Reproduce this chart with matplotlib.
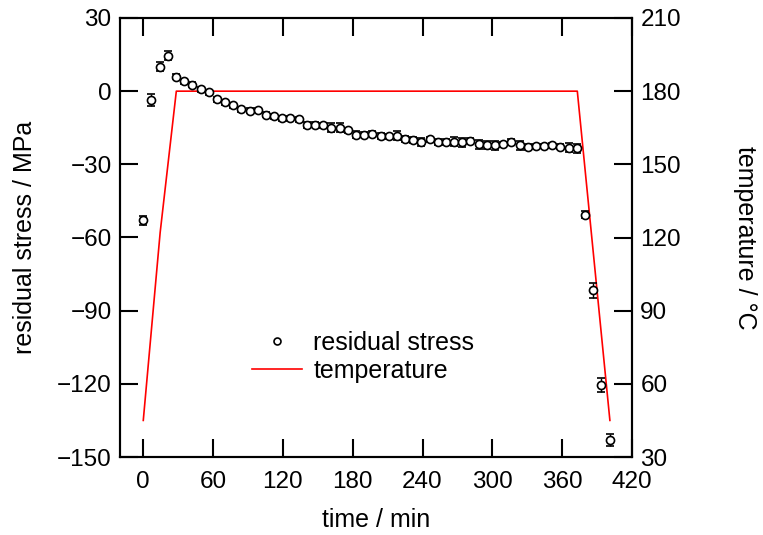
import matplotlib
matplotlib.use("Agg")
import matplotlib.pyplot as plt
from matplotlib.lines import Line2D

plt.rcParams['font.family'] = ['Liberation Sans', 'DejaVu Sans']

# residual stress measurements
time_min = [0.0, 7.0, 14.1, 21.1, 28.1, 35.2, 42.2, 49.2, 56.2, 63.3,
            70.3, 77.3, 84.4, 91.4, 98.4, 105.5, 112.5, 119.5, 126.5, 133.6,
            140.6, 147.6, 154.7, 161.7, 168.7, 175.8, 182.8, 189.8, 196.8, 203.9,
            210.9, 217.9, 225.0, 232.0, 239.0, 246.1, 253.1, 260.1, 267.1, 274.2,
            281.2, 288.2, 295.3, 302.3, 309.3, 316.4, 323.4, 330.4, 337.4, 344.5,
            351.5, 358.5, 365.6, 372.6, 379.6, 386.7, 393.7, 400.7]
stress = [-53.0, -3.6, 10.0, 14.5, 6.0, 4.0, 2.7, 0.8, -0.5, -3.3,
          -4.5, -5.8, -7.4, -8.1, -7.7, -9.6, -10.3, -11.2, -11.2, -11.5,
          -14.0, -13.8, -14.0, -15.0, -15.0, -16.0, -17.9, -17.9, -17.4, -18.5,
          -18.5, -18.2, -19.5, -20.1, -20.8, -19.7, -20.7, -20.8, -20.7, -21.0,
          -20.3, -21.8, -22.1, -22.2, -21.7, -20.8, -22.2, -22.9, -22.5, -22.5,
          -22.2, -22.7, -23.1, -23.4, -50.6, -81.7, -120.5, -143.1]
stress_err = [1.8, 2.5, 1.8, 1.8, 1.2, 1.0, 1.0, 1.0, 1.0, 1.0,
              1.0, 1.0, 1.0, 1.0, 1.0, 1.0, 1.0, 1.2, 1.0, 1.0,
              1.2, 1.0, 1.0, 1.8, 1.8, 1.0, 1.5, 1.0, 1.0, 1.2,
              1.0, 1.8, 1.2, 1.2, 1.8, 1.0, 1.2, 1.2, 1.8, 1.8,
              1.0, 1.8, 1.8, 1.8, 1.0, 1.2, 1.8, 1.2, 1.0, 1.0,
              1.0, 1.2, 1.8, 1.8, 1.5, 3.0, 3.0, 2.5]

# temperature profile
temp_time = [0.0, 14.5, 28.4, 373.0, 401.0]
temp_c = [45.0, 122.0, 180.0, 180.0, 45.0]

xticks = [0, 60, 120, 180, 240, 300, 360, 420]
yticks_left = [-150, -120, -90, -60, -30, 0, 30]
yticks_right = [30, 60, 90, 120, 150, 180, 210]

fig = plt.figure(figsize=(7.63, 5.35), dpi=100)
ax = fig.add_axes([120/763, 1-457/535, 512/763, 439/535])
ax2 = ax.twinx()

ax2.plot(temp_time, temp_c, color='#ff0000', lw=1.2, zorder=1)

ax.set_zorder(ax2.get_zorder() + 1)
ax.patch.set_visible(False)
ax.errorbar(time_min, stress, yerr=stress_err, fmt='o', ms=5.8, mfc='white',
            mec='black', mew=1.2, ecolor='black', elinewidth=1.0, capsize=3.2,
            capthick=1.0, zorder=3)

ax.set_xlim(-20, 420)
ax.set_ylim(-150, 30)
ax2.set_ylim(30, 210)
ax.set_xticks(xticks)
ax.set_yticks(yticks_left)
ax2.set_yticks(yticks_right)

for a in (ax, ax2):
    for s in a.spines.values():
        s.set_linewidth(1.5)
ax.tick_params(axis='both', direction='in', length=13, width=1.5, labelsize=17.5,
               pad=6, top=True)
ax.tick_params(axis='x', pad=10)
ax.tick_params(axis='y', right=False)
ax2.tick_params(axis='y', direction='in', length=13, width=1.5, labelsize=17.5, pad=6)

ax.set_xlabel('time / min', fontsize=18, labelpad=11)
ax.set_ylabel('residual stress / MPa', fontsize=18, labelpad=14)
ax2.set_ylabel('temperature / °C', fontsize=18, rotation=270, labelpad=55)

handles = [Line2D([], [], ls='none', marker='o', ms=5, mfc='white', mec='black', mew=1.2),
           Line2D([], [], color='#ff0000', lw=1.2)]
ax.legend(handles, ['residual stress', 'temperature'], loc='center',
          bbox_to_anchor=((363-120)/512, (457-357)/439), frameon=False,
          fontsize=18, handlelength=2.0, handletextpad=0.45, labelspacing=0.15,
          borderpad=0)

fig.savefig('out.png', dpi=100)
